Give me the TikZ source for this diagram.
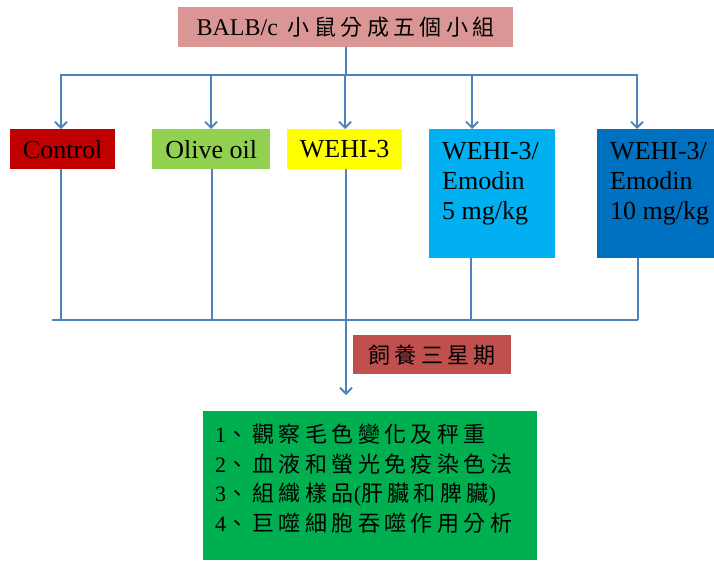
\documentclass[tikz,border=0pt]{standalone}
\usepackage{fontspec}
\setmainfont{Liberation Serif}
\newfontfamily\cjk[LetterSpace=20]{Noto Sans CJK TC}
\usetikzlibrary{arrows.meta}
\definecolor{lineblue}{HTML}{4F81BD}
\definecolor{titlepink}{HTML}{D99694}
\definecolor{ctrlred}{HTML}{C00000}
\definecolor{olivegreen}{HTML}{92D050}
\definecolor{wehiyellow}{HTML}{FFFF00}
\definecolor{lightblue}{HTML}{00B0F0}
\definecolor{darkblue}{HTML}{0070C0}
\definecolor{feedred}{HTML}{C0504D}
\definecolor{resgreen}{HTML}{00B050}
\newcommand\latbig{\fontsize{26}{30}\selectfont}
\newcommand\cjsize{\fontsize{22}{29.5}\selectfont}
\begin{document}
\begin{tikzpicture}[x=1pt,y=-1pt,
  conn/.style={draw=lineblue, line width=1.8pt},
  arr/.style={conn, -{Straight Barb[length=6pt,width=12pt]}},
  box/.style={rectangle, inner sep=0pt, anchor=north west, text=black}]
\useasboundingbox (0,0) rectangle (714,562);

% title
\node[box, fill=titlepink, minimum width=335pt, minimum height=40pt] (title) at (178,7)
  {\fontsize{24}{28}\selectfont BALB/c\hspace{10pt}{\cjk\cjsize 小鼠分成五個小組}};

% group boxes
\node[box, fill=ctrlred, minimum width=105pt, minimum height=40pt] (b1) at (10,129) {\latbig Control};
\node[box, fill=olivegreen, minimum width=118pt, minimum height=40pt] (b2) at (152,129) {\latbig Olive oil};
\node[box, fill=wehiyellow, minimum width=115pt, minimum height=40pt] (b3) at (287,129) {\latbig WEHI-3};
\node[box, fill=lightblue, inner xsep=13pt, inner ysep=13pt] (b4) at (429,129)
  {\parbox[c][103pt][t]{100pt}{\latbig\mbox{WEHI-3/}\\\mbox{Emodin}\\\mbox{5 mg/kg}}};
\node[box, fill=darkblue, inner xsep=13pt, inner ysep=13pt] (b5) at (597,129)
  {\parbox[c][103pt][t]{91pt}{\latbig\mbox{WEHI-3/}\\\mbox{Emodin}\\\mbox{10 mg/kg}}};

% feeding
\node[box, fill=feedred, minimum width=158pt, minimum height=39pt] (feed) at (353,335)
  {{\cjk\cjsize 飼養三星期}};

% results
\node[box, fill=resgreen, inner xsep=12pt, inner ysep=13pt] (res) at (203,411)
  {\parbox[c][123pt][t]{310pt}{\cjsize
   1{\cjk 、觀察毛色變化及秤重}\\
   2{\cjk 、血液和螢光免疫染色法}\\
   3{\cjk 、組織樣品}({\cjk 肝臟和脾臟})\\
   4{\cjk 、巨噬細胞吞噬作用分析}}};

% top distribution
\coordinate (hy) at (0,75);
\coordinate (hl) at (60,75);
\coordinate (hr) at (638,75);
\coordinate (a1) at (61,75);
\coordinate (a2) at (211,75);
\coordinate (a3) at (345,75);
\coordinate (a4) at (472,75);
\coordinate (a5) at (637,75);
\draw[conn] (title.south) -- (title.south |- hy);
\draw[conn] (hl) -- (hr);
\draw[arr] (a1) -- (a1 |- b1.north);
\draw[arr] (a2) -- (a2 |- b2.north);
\draw[arr] (a3) -- (a3 |- b3.north);
\draw[arr] (a4) -- (a4 |- b4.north);
\draw[arr] (a5) -- (a5 |- b5.north);

% bottom collection
\coordinate (d1) at (61,320);
\coordinate (d2) at (212,320);
\coordinate (d3) at (346,320);
\coordinate (d4) at (471,320);
\coordinate (d5) at (638,320);
\coordinate (bl) at (52,320);
\coordinate (tip) at (346,395);
\draw[conn] (d1 |- b1.south) -- (d1);
\draw[conn] (d2 |- b2.south) -- (d2);
\draw[conn] (d3 |- b3.south) -- (d3);
\draw[conn] (d4 |- b4.south) -- (d4);
\draw[conn] (d5 |- b5.south) -- (d5);
\draw[conn] (bl) -- (d5);
\draw[arr] (d3) -- (tip);
\end{tikzpicture}
\end{document}
